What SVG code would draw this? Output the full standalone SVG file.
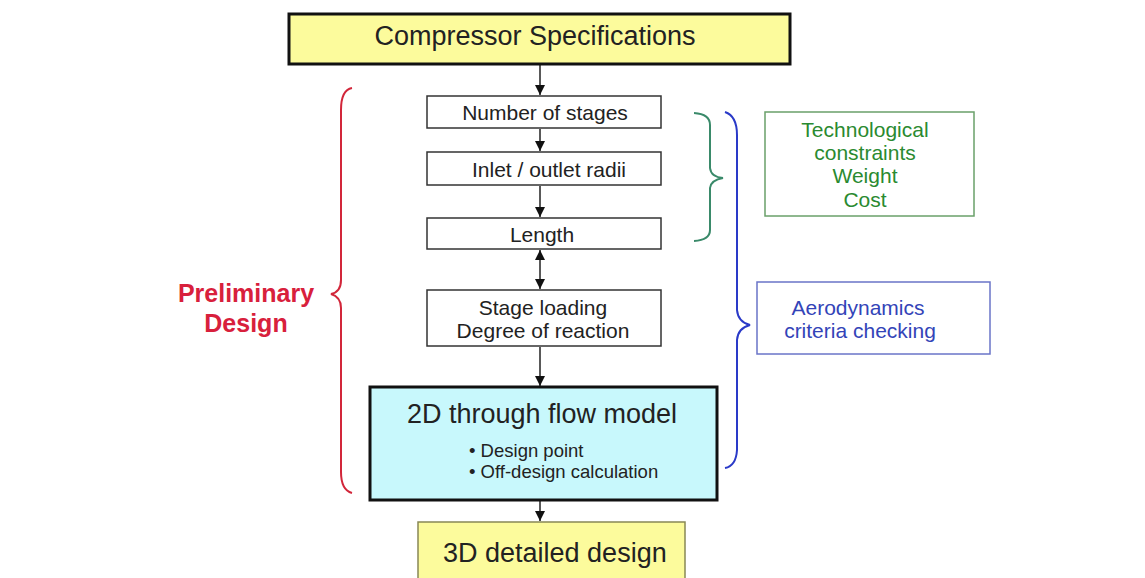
<svg xmlns="http://www.w3.org/2000/svg" width="1145" height="578" viewBox="0 0 1145 578">
<defs>
<marker id="ah" viewBox="0 0 10 10" refX="10" refY="5" markerWidth="10" markerHeight="10" markerUnits="userSpaceOnUse" orient="auto-start-reverse">
<path d="M0,0 L10,5 L0,10 Z" fill="#111"/>
</marker>
<style>
text{font-family:"Liberation Sans",Arial,sans-serif;}
.box{fill:#fff;stroke:#333;stroke-width:1.5;}
.t{font-size:21px;fill:#222;text-anchor:middle;}
.conn{stroke:#222;stroke-width:1.5;fill:none;}
</style>
</defs>
<rect x="0" y="0" width="1145" height="578" fill="#fff"/>
<g id="connectors">
<line class="conn" x1="540" y1="65" x2="540" y2="95" marker-end="url(#ah)"/>
<line class="conn" x1="540" y1="129" x2="540" y2="151" marker-end="url(#ah)"/>
<line class="conn" x1="540" y1="186" x2="540" y2="217" marker-end="url(#ah)"/>
<line class="conn" x1="540" y1="250" x2="540" y2="289" marker-start="url(#ah)" marker-end="url(#ah)"/>
<line class="conn" x1="540" y1="347" x2="540" y2="386" marker-end="url(#ah)"/>
<line class="conn" x1="540" y1="501" x2="540" y2="521" marker-end="url(#ah)"/>
</g>
<g id="spec">
<rect x="289" y="14" width="501" height="50" fill="#fcfb9c" stroke="#111" stroke-width="3"/>
<text x="535" y="45" font-size="27" fill="#222" text-anchor="middle">Compressor Specifications</text>
</g>
<g id="stages">
<rect class="box" x="427" y="96" width="234" height="32"/>
<text class="t" x="545" y="120">Number of stages</text>
</g>
<g id="radii">
<rect class="box" x="427" y="152" width="234" height="33"/>
<text class="t" x="549" y="177">Inlet / outlet radii</text>
</g>
<g id="length">
<rect class="box" x="427" y="218" width="234" height="31"/>
<text class="t" x="542" y="242">Length</text>
</g>
<g id="loading">
<rect class="box" x="427" y="290" width="234" height="56"/>
<text class="t" x="543" y="315">Stage loading</text>
<text class="t" x="543" y="338">Degree of reaction</text>
</g>
<g id="throughflow">
<rect x="370" y="387" width="347" height="113" fill="#c8f8fc" stroke="#111" stroke-width="3"/>
<text x="542" y="423" font-size="27" fill="#222" text-anchor="middle">2D through flow model</text>
<text x="469" y="457" font-size="18.5" fill="#222">• Design point</text>
<text x="469" y="478" font-size="18.5" fill="#222">• Off-design calculation</text>
</g>
<g id="detailed">
<rect x="418" y="522" width="267" height="60" fill="#fcfb9c" stroke="#888855" stroke-width="1.5"/>
<text x="443" y="562" font-size="27" fill="#222">3D detailed design</text>
</g>
<g id="preliminary">
<path d="M352,88 Q341,90 341,110 L341,280 Q341,292 331,294 Q341,297 341,308 L341,472 Q341,490 352,493" fill="none" stroke="#d2263a" stroke-width="2"/>
<text x="246" y="302" font-size="25" font-weight="bold" fill="#d8203c" text-anchor="middle">Preliminary</text>
<text x="246" y="332" font-size="25" font-weight="bold" fill="#d8203c" text-anchor="middle">Design</text>
</g>
<g id="techbrace">
<path d="M694,113 Q710,114 710,125 L710,168 Q711,177 723,178 Q711,180 710,188 L710,230 Q710,240 694,241" fill="none" stroke="#3a8a6a" stroke-width="2"/>
</g>
<g id="aerobrace">
<path d="M725,112 Q737,116 737,135 L737,310 Q738,322 750,325 Q738,328 737,340 L737,450 Q736,466 725,468" fill="none" stroke="#2a3ac8" stroke-width="2"/>
</g>
<g id="tech">
<rect x="765" y="112" width="209" height="104" fill="#fff" stroke="#6aa06a" stroke-width="1.5"/>
<text x="865" y="137" font-size="21" fill="#2a8a30" text-anchor="middle">Technological</text>
<text x="865" y="160" font-size="21" fill="#2a8a30" text-anchor="middle">constraints</text>
<text x="865" y="183" font-size="21" fill="#2a8a30" text-anchor="middle">Weight</text>
<text x="865" y="207" font-size="21" fill="#2a8a30" text-anchor="middle">Cost</text>
</g>
<g id="aero">
<rect x="757" y="282" width="233" height="72" fill="#fff" stroke="#6a74c8" stroke-width="1.5"/>
<text x="858" y="315" font-size="21" fill="#3344b8" text-anchor="middle">Aerodynamics</text>
<text x="860" y="338" font-size="21" fill="#3344b8" text-anchor="middle">criteria checking</text>
</g>
</svg>
